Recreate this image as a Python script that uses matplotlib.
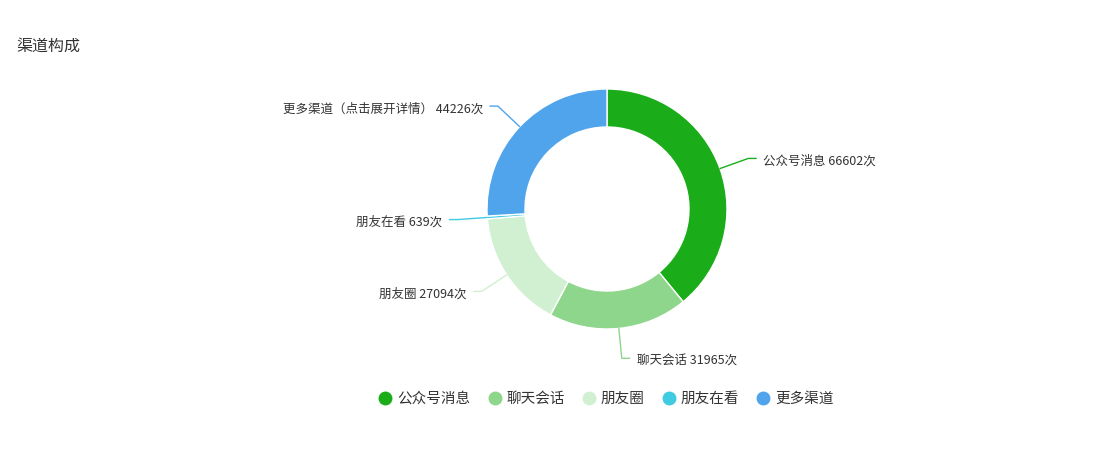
import numpy as np
import matplotlib.pyplot as plt
from matplotlib.lines import Line2D

plt.rcParams['font.family'] = ['Noto Sans CJK SC', 'DejaVu Sans']

# 数据
categories = ['公众号消息', '聊天会话', '朋友圈', '朋友在看', '更多渠道']
label_names = ['公众号消息', '聊天会话', '朋友圈', '朋友在看', '更多渠道（点击展开详情）']
counts = [66602, 31965, 27094, 639, 44226]
colors = ['#1aad19', '#8ed68b', '#d1f0d1', '#3fcbe0', '#4fa4eb']

W, H = 1119, 459
cx, cy = 607, H - 209
r_out, r_in = 120, 82

fig = plt.figure(figsize=(W / 100, H / 100), dpi=100)
ax = fig.add_axes([0, 0, 1, 1])
ax.axis('off')

ax.pie(counts, colors=colors, startangle=90, counterclock=False,
       radius=r_out, center=(cx, cy),
       wedgeprops=dict(width=r_out - r_in, edgecolor='white', linewidth=1))
ax.set_xlim(0, W)
ax.set_ylim(0, H)
ax.set_aspect('equal')

# 标签和引导线
total = sum(counts)
cum = np.cumsum([0] + counts)
for i, (name, v) in enumerate(zip(label_names, counts)):
    mid = (cum[i] + cum[i + 1]) / 2 / total
    ang = np.deg2rad(90 - mid * 360)
    x0, y0 = cx + r_out * np.cos(ang), cy + r_out * np.sin(ang)
    x1, y1 = cx + 150 * np.cos(ang), cy + 150 * np.sin(ang)
    side = 1 if np.cos(ang) >= 0 else -1
    x2 = x1 + side * 8
    ax.plot([x0, x1, x2], [y0, y1, y1], color=colors[i], lw=1,
            solid_capstyle='round')
    ax.text(x2 + side * 7, y1 - 3, f'{name} {v}次', fontsize=9, color='#333333',
            ha='left' if side > 0 else 'right', va='center')

# 标题
fig.text(16 / W, 1 - 46 / H, '渠道构成', fontsize=11.5, color='#333333',
         ha='left', va='center')

# 图例
handles = [Line2D([], [], marker='o', linestyle='none', markersize=9,
                  markerfacecolor=c, markeredgecolor=c) for c in colors]
fig.legend(handles, categories, loc='center', bbox_to_anchor=(606 / W, 1 - 399 / H),
           ncol=5, frameon=False, fontsize=10.5, handlelength=1.0,
           handletextpad=0.32, columnspacing=1.15, labelcolor='#333333')

fig.savefig('out.png', dpi=100)
